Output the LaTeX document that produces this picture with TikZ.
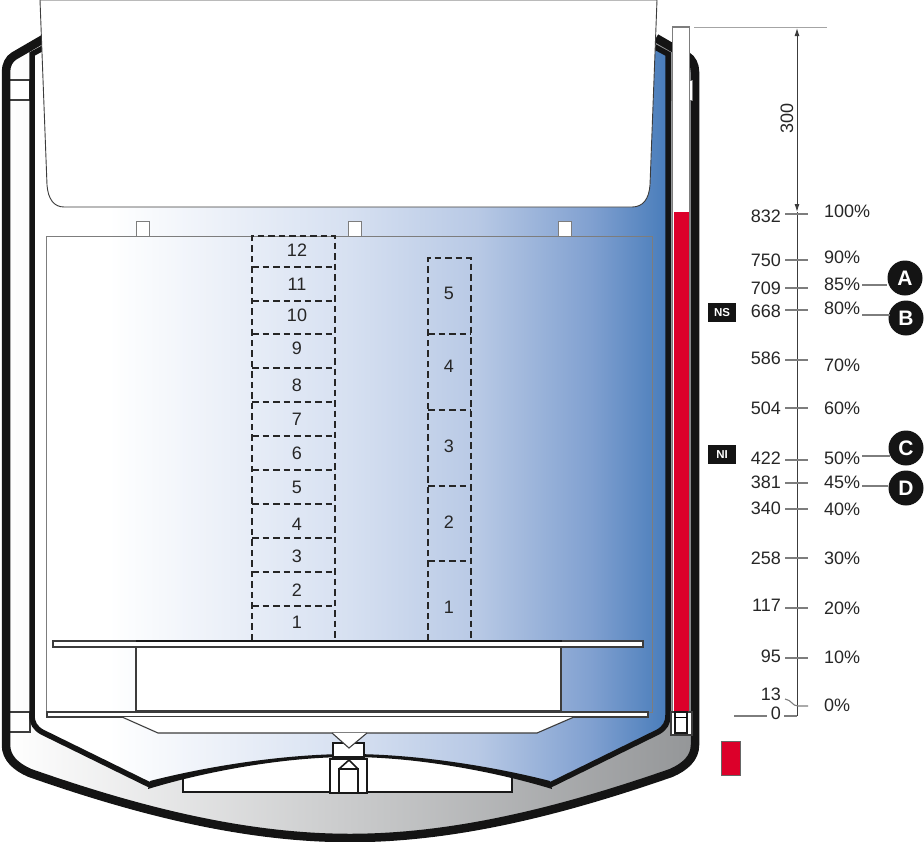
\documentclass[tikz,border=0pt]{standalone}
\usepackage{fontspec}
\usetikzlibrary{arrows.meta}
\setmainfont{Liberation Sans}
\definecolor{ink}{RGB}{38,38,38}
\definecolor{wire}{RGB}{60,60,60}
\definecolor{soft}{RGB}{125,125,125}
\definecolor{tubered}{RGB}{220,0,42}
\definecolor{shellgray}{RGB}{148,150,152}
\definecolor{steelA}{RGB}{214,224,241}
\definecolor{steelB}{RGB}{184,201,229}
\definecolor{steelC}{RGB}{128,160,208}
\definecolor{steelD}{RGB}{72,124,186}
\pgfdeclarehorizontalshading{vesselblue}{100bp}{color(0bp)=(white); color(31bp)=(white); color(50bp)=(steelA); color(60bp)=(steelB); color(69bp)=(steelC); color(75bp)=(steelD); color(100bp)=(steelD)}
\tikzset{
  thinline/.style={draw=wire, line width=1.1pt},
  heavyline/.style={draw=black!90, line width=1.6pt},
  cellbox/.style={draw=ink, line width=1.1pt, dash pattern=on 6.5pt off 4pt},
  tick/.style={draw=soft, line width=1.1pt},
  numlabel/.style={text=ink, font=\fontsize{18}{20}\selectfont, inner sep=0pt},
  mark label/.style={circle, fill=black!92, text=white, minimum size=35pt, inner sep=0pt, font=\fontsize{21}{22}\selectfont\bfseries},
  levelflag/.style={fill=black!92, text=white, minimum width=28pt, minimum height=19pt, inner sep=0pt, font=\fontsize{11.5}{12}\selectfont\bfseries}
}
\begin{document}
\begin{tikzpicture}[x=1pt, y=-1pt]
  \useasboundingbox (0,0) rectangle (924,841);
  \clip (0,0) rectangle (924,841);
  \path[left color=white, right color=shellgray] (45,38) -- (14,56) .. controls (9,59) and (6,65) .. (6,72) -- (6,745) .. controls (6,758) and (16,767) .. (30,773) .. controls (130,808) and (240,838) .. (350,838) .. controls (460,838) and (570,808) .. (671,773) .. controls (685,767) and (695,758) .. (695,745) -- (695,72) .. controls (695,65) and (692,59) .. (687,56) -- (656,38) -- cycle;
  \draw[thinline, fill=white] (9,80) rectangle (30,100);
  \draw[thinline, fill=white] (9,712) rectangle (30,732);
  \draw[black!92, line width=8.5pt] (45,38) -- (14,56) .. controls (9,59) and (6,65) .. (6,72) -- (6,745) .. controls (6,758) and (16,767) .. (30,773) .. controls (130,808) and (240,838) .. (350,838) .. controls (460,838) and (570,808) .. (671,773) .. controls (685,767) and (695,758) .. (695,745) -- (695,72) .. controls (695,65) and (692,59) .. (687,56) -- (656,38);
  \draw[heavyline, fill=white] (183,750) rectangle (512,792);
  \path[shading=vesselblue] (45,47) -- (32,54) -- (32,715) .. controls (32,723) and (35,728) .. (42,732) -- (150,785) .. controls (200,770) and (280,755) .. (350,755) .. controls (420,755) and (500,770) .. (550,785) -- (658,732) .. controls (665,728) and (668,723) .. (668,715) -- (668,54) -- (655,47) -- cycle;
  \draw[black!92, line width=5.5pt] (45,47) -- (32,54) -- (32,715) .. controls (32,723) and (35,728) .. (42,732) -- (150,785);
  \draw[black!92, line width=5.5pt] (655,47) -- (668,54) -- (668,715) .. controls (668,723) and (665,728) .. (658,732) -- (550,785);
  \fill[black!92] (150,781) .. controls (200,768) and (280,754) .. (350,754) .. controls (420,754) and (500,768) .. (550,781) -- (552,789) .. controls (500,773) and (420,757) .. (350,757) .. controls (280,757) and (200,773) .. (148,789) -- cycle;
  \draw[draw=soft, line width=1pt] (46,236) rectangle (652,712);
  \foreach \px in {136,348,558} {
    \draw[draw=soft, line width=1pt, fill=white] (\px,221) rectangle (\px+13,236);
  }
  \draw[thinline, line width=.9pt, fill=white] (40,0) -- (47,185) .. controls (48,199) and (54,207) .. (64,207) -- (632,207) .. controls (643,207) and (649,199) .. (650,185) -- (657,0) -- cycle;
  \draw[cellbox] (252,640) -- (252,236) -- (335,236) -- (335,640);
  \foreach \n/\a/\t in {12/267/250, 11/301/284, 10/334/315, 9/368/348, 8/402/385, 7/436/419, 6/470/453, 5/504/487, 4/538/524, 3/572/556, 2/606/590} {
    \draw[cellbox] (252,\a) -- (335,\a);
    \node[numlabel] (cella\n) at (297,\t) {\n};
  }
  \node[numlabel] (cella1) at (297,622) {1};
  \draw[cellbox] (428,640) -- (428,258) -- (471,258) -- (471,640);
  \foreach \n/\a/\t in {5/334/293, 4/410/366, 3/486/446, 2/561/522} {
    \draw[cellbox] (428,\a) -- (471,\a);
    \node[numlabel] (cellb\n) at (449,\t) {\n};
  }
  \node[numlabel] (cellb1) at (449,607) {1};
  \draw[thinline, fill=white] (53,641) rectangle (643,647);
  \draw[thinline, fill=white] (136,647) rectangle (561,711);
  \draw[heavyline] (136,641) -- (562,641);
  \draw[thinline, fill=white] (47,712) rectangle (648,717);
  \draw[thinline, fill=white] (122,717) -- (158,733) -- (537,733) -- (574,717);
  \draw[heavyline, fill=white] (333,743) rectangle (364,757);
  \draw[thinline, fill=white] (332,733) -- (349,748) -- (367,733);
  \draw[heavyline, fill=white] (330,759) rectangle (367,793);
  \draw[heavyline] (339,793) -- (339,769) -- (358,769) -- (358,793);
  \draw[heavyline] (339,769) -- (349,760) -- (358,769);
  \draw[soft, line width=1pt, fill=white] (671,80) rectangle (692,100);
  \draw[soft, line width=1.5pt, fill=white] (672.5,27) rectangle (689.5,712);
  \fill[tubered] (673.5,212) rectangle (688.5,712);
  \draw[thinline, fill=white] (671,712) rectangle (692,735);
  \draw[heavyline] (675,712) rectangle (687,733);
  \draw[black, line width=1pt] (675,717) -- (687,717);
  \draw[fill=tubered, draw=black!60, line width=.8pt] (721,741) rectangle (740,775);
  \coordinate (toplimit) at (694,27);
  \coordinate (topend) at (827,27);
  \draw[draw=soft!70, line width=.8pt] (toplimit) -- (topend);
  \draw[wire, line width=1pt, {Latex[length=8pt,width=5pt]}-{Latex[length=8pt,width=5pt]}] (797,28) -- (797,212);
  \draw[wire, line width=1pt] (797,212) -- (797,716);
  \node[numlabel, rotate=90] (depth) at (787,118) {300};
  \foreach \v/\ty/\y in {832/214/216, 750/260/260, 709/288/288, 668/310/311, 586/360/358, 504/408/408, 422/460/458, 381/483/482, 340/509/508, 258/558/558, 117/608/605, 95/658/656} {
    \node[numlabel, anchor=east] (lev\v) at (781,\y) {\v};
    \draw[tick] (785,\ty) -- (808,\ty);
  }
  \node[numlabel, anchor=east] (lev13) at (781,694) {13};
  \node[numlabel, anchor=east] (lev0) at (781,713) {0};
  \coordinate (zeroleft) at (734,716);
  \coordinate (zeroright) at (797,716);
  \draw[tick] (zeroleft) -- (767,716);
  \draw[tick] (784,716) -- (zeroright);
  \draw[tick] (785,699) .. controls (792,700) and (792,706) .. (798,706) -- (808,706);
  \foreach \v/\y in {100/211, 90/257, 85/284, 80/308, 70/365, 60/408, 50/458, 45/482, 40/509, 30/558, 20/608, 10/657, 0/705} {
    \node[numlabel, anchor=west] (pct\v) at (824,\y) {\v\%};
  }
  \node[mark label] (markA) at (905,278) {A};
  \node[mark label] (markB) at (906,318) {B};
  \node[mark label] (markC) at (906,448) {C};
  \node[mark label] (markD) at (906,488) {D};
  \draw[tick] (pct85.east) ++(2,1) coordinate (startA) -- (startA -| markA.west);
  \draw[tick, shorten >=-2pt] (pct80.east) ++(2,7) coordinate (startB) -- (startB -| markB.west);
  \draw[tick, shorten >=-2pt] (pct50.east) ++(2,-2) coordinate (startC) -- (startC -| markC.west);
  \draw[tick] (pct45.east) ++(2,4) coordinate (startD) -- (startD -| markD.west);
  \node[levelflag] (flagNS) at (722,312.5) {NS};
  \node[levelflag] (flagNI) at (722,454.5) {NI};
\end{tikzpicture}
\end{document}
